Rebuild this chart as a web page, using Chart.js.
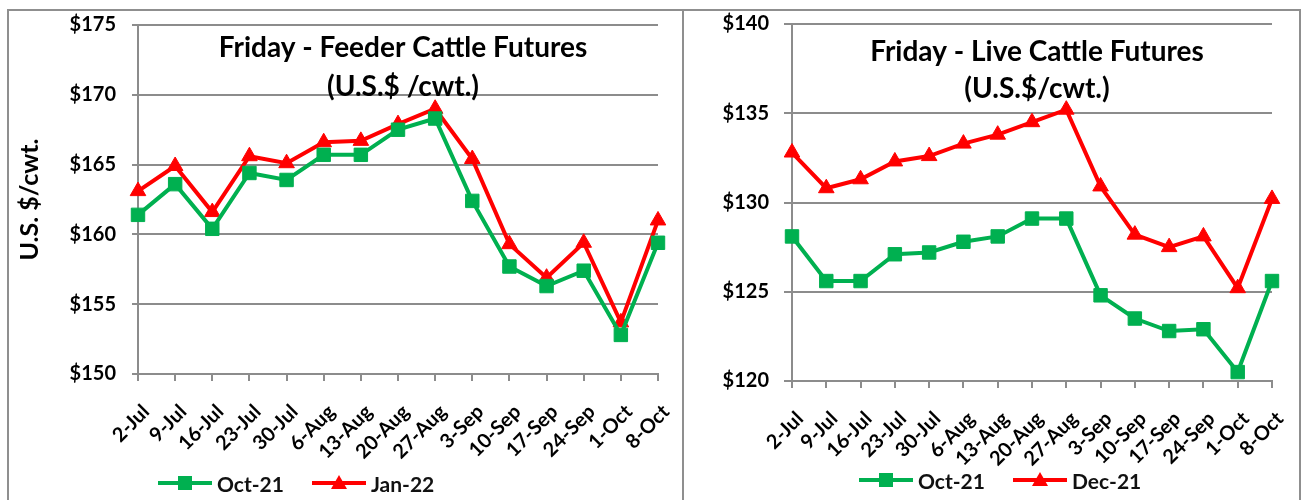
<!DOCTYPE html>
<html>
<head>
<meta charset="utf-8">
<script src="https://cdn.jsdelivr.net/npm/chart.js@4.4.0/dist/chart.umd.min.js"></script>
<style>
  body { margin: 0; background: #fff; width: 1304px; height: 500px; overflow: hidden; position: relative; font-family: Lato, sans-serif; }
  #frame { position: absolute; left: 7px; top: 9px; width: 1290px; height: 530px; border: 2px solid #8f8f8f; }
  #divider { position: absolute; left: 682px; top: 9px; width: 2px; height: 530px; background: #8f8f8f; }
  .box { position: absolute; }
  .legend { position: absolute; display: flex; align-items: center; height: 24px; font: bold 21px Lato; color: #111; }
  .item { display: flex; align-items: center; }
  .item + .item { margin-left: 28px; }
  .sample { position: relative; width: 54px; height: 24px; margin-right: 5px; }
  .sample .ln { position: absolute; left: 0; right: 0; top: 10px; height: 4px; }
  .sample .sq { position: absolute; left: 20px; top: 5px; width: 14px; height: 14px; }
  .sample .tri { position: absolute; left: 19px; top: 4px; width: 0; height: 0; border-left: 8px solid transparent; border-right: 8px solid transparent; border-bottom: 14px solid #ff0000; }
</style>
</head>
<body>
<div id="frame"></div>
<div id="divider"></div>

<div class="box" style="left:10px;top:-3px;width:671px;height:475px;"><canvas id="chartFeeder"></canvas></div>
<div class="box" style="left:685px;top:-3px;width:612px;height:475px;"><canvas id="chartLive"></canvas></div>

<div class="legend" style="left:158px;top:471px;">
  <div class="item"><div class="sample"><div class="ln" style="background:#00b050"></div><div class="sq" style="background:#00b050"></div></div>Oct-21</div>
  <div class="item"><div class="sample"><div class="ln" style="background:#ff0000"></div><div class="tri"></div></div>Jan-22</div>
</div>
<div class="legend" style="left:859px;top:468px;">
  <div class="item"><div class="sample"><div class="ln" style="background:#00b050"></div><div class="sq" style="background:#00b050"></div></div>Oct-21</div>
  <div class="item"><div class="sample"><div class="ln" style="background:#ff0000"></div><div class="tri"></div></div>Dec-21</div>
</div>

<script>
// semanas (viernes)
const semanas = ['2-Jul', '9-Jul', '16-Jul', '23-Jul', '30-Jul', '6-Aug', '13-Aug', '20-Aug', '27-Aug', '3-Sep', '10-Sep', '17-Sep', '24-Sep', '1-Oct', '8-Oct'];

// Feeder cattle (U.S.$/cwt.)
const feederOct21 = [161.4, 163.6, 160.4, 164.4, 163.9, 165.7, 165.7, 167.5, 168.3, 162.4, 157.7, 156.3, 157.4, 152.8, 159.4];
const feederJan22 = [163.1, 164.9, 161.6, 165.6, 165.1, 166.6, 166.7, 167.9, 169.0, 165.4, 159.3, 156.9, 159.4, 153.7, 161.0];

// Live cattle (U.S.$/cwt.)
const liveOct21 = [128.1, 125.6, 125.6, 127.1, 127.2, 127.8, 128.1, 129.1, 129.1, 124.8, 123.5, 122.8, 122.9, 120.5, 125.6];
const liveDec21 = [132.8, 130.8, 131.3, 132.3, 132.6, 133.3, 133.8, 134.5, 135.2, 130.9, 128.2, 127.5, 128.1, 125.2, 130.2];

// ejes
const feederRango = { min: 150, max: 175, paso: 5 };
const liveRango = { min: 120, max: 140, paso: 5 };

const GRIS = '#8c8c8c';
const VERDE = '#00b050';
const ROJO = '#ff0000';

// titulo dentro del area del grafico
const tituloInterno = {
  id: 'tituloInterno',
  afterDraw(chart, args, opts) {
    const { ctx, chartArea } = chart;
    const cx = (chartArea.left + chartArea.right) / 2 + 5;
    ctx.save();
    ctx.fillStyle = '#000';
    ctx.textAlign = 'center';
    ctx.textBaseline = 'middle';
    ctx.font = 'bold 28px Lato';
    ctx.fillText(opts.linea1, cx, chartArea.top + opts.y1);
    ctx.fillText(opts.linea2, cx, chartArea.top + opts.y2);
    ctx.restore();
  }
};

function serie(label, data, color, estilo) {
  return {
    label, data,
    borderColor: color, backgroundColor: color,
    borderWidth: 4,
    pointStyle: estilo,
    pointRadius: estilo === 'rect' ? 9.5 : 9,
    pointBorderWidth: 1,
    tension: 0
  };
}

function crearGrafico(id, datasets, rango, cfg) {
  return new Chart(document.getElementById(id), {
    type: 'line',
    data: { labels: semanas, datasets },
    plugins: [tituloInterno],
    options: {
      responsive: true, maintainAspectRatio: false, animation: false,
      layout: { padding: { top: 0, right: cfg.padDer, left: 0, bottom: 0 } },
      plugins: {
        legend: { display: false },
        tooltip: { enabled: false },
        tituloInterno: { linea1: cfg.t1, linea2: cfg.t2, y1: cfg.y1, y2: cfg.y2 }
      },
      scales: {
        x: {
          offset: false,
          grid: { drawOnChartArea: false, color: GRIS, lineWidth: 2, tickLength: 7 },
          border: { color: GRIS, width: 2 },
          ticks: { maxRotation: 45, minRotation: 45, autoSkip: false, color: '#000', padding: 19, labelOffset: 8,
                   font: { family: 'Lato', size: 20, weight: 'bold' } },
          afterFit(s) { s.height = cfg.altoX; s.paddingLeft = 0; s.paddingRight = 0; }
        },
        y: {
          min: rango.min, max: rango.max,
          grid: { color: GRIS, lineWidth: 2, tickLength: cfg.tick },
          border: { color: GRIS, width: 2 },
          ticks: { stepSize: rango.paso, color: '#000', padding: cfg.padTick,
                   font: { family: 'Lato', size: 20, weight: 'bold' },
                   callback: v => '$' + v },
          title: { display: !!cfg.tituloY, text: cfg.tituloY, color: '#000', padding: { top: 5, bottom: 0 },
                   font: { family: 'Lato', size: 25, weight: 'bold' } },
          afterFit(s) { s.width = cfg.anchoY; }
        }
      }
    }
  });
}

crearGrafico('chartFeeder', [
  serie('Oct-21', feederOct21, VERDE, 'rect'),
  serie('Jan-22', feederJan22, ROJO, 'triangle')
], feederRango, {
  padDer: 23, altoX: 98, anchoY: 128, tick: 6, padTick: 16, tituloY: 'U.S. $/cwt.',
  t1: 'Friday - Feeder Cattle Futures', t2: '(U.S.$ /cwt.)', y1: 23, y2: 62
});

crearGrafico('chartLive', [
  serie('Oct-21', liveOct21, VERDE, 'rect'),
  serie('Dec-21', liveDec21, ROJO, 'triangle')
], liveRango, {
  padDer: 25, altoX: 91, anchoY: 107, tick: 8, padTick: 15, tituloY: '',
  t1: 'Friday - Live Cattle Futures', t2: '(U.S.$/cwt.)', y1: 28, y2: 65
});
</script>
</body>
</html>
